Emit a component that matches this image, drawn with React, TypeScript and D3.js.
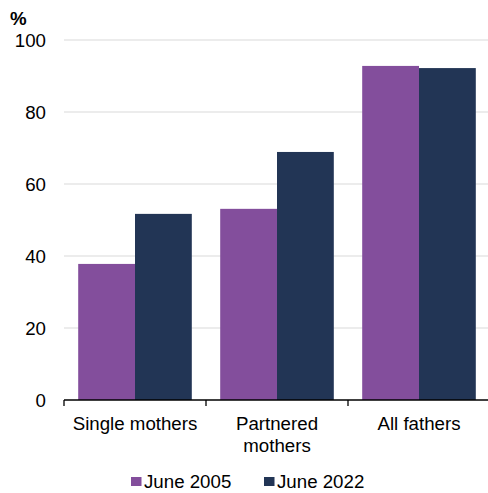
import React from "react";
import * as d3 from "d3";

const categories: string[][] = [["Single mothers"], ["Partnered", "mothers"], ["All fathers"]];
const categoryKeys = ["Single mothers", "Partnered mothers", "All fathers"];
const seriesNames = ["June 2005", "June 2022"];
const june2005 = [37.8, 53.1, 92.8];
const june2022 = [51.7, 68.9, 92.2];
const yTicks = [0, 20, 40, 60, 80, 100];
const colors = ["#834E9C", "#223555"];

const W = 488;
const H = 493;
const left = 64;
const right = 490;
const top = 40;
const bottom = 400;
const font = "'Liberation Sans', Arial, sans-serif";
const fs = 18.7;

export default function App() {
  const y = d3.scaleLinear().domain([0, 100]).range([bottom, top]);
  const x = d3.scaleBand<string>().domain(categoryKeys).range([left, right]).paddingInner(0).paddingOuter(0);
  const bw = x.bandwidth();
  const inner = d3.scaleBand<string>().domain(seriesNames).range([bw * 0.1, bw * 0.9]).padding(0);
  const series = [june2005, june2022];
  const boundaries = [...categoryKeys.map((c) => x(c) as number), right];

  return (
    <svg width={W} height={H} style={{ position: "absolute", left: 0, top: 0, background: "#fff" }}>
      {yTicks.filter((t) => t > 0).map((t) => (
        <line key={t} x1={left} x2={right} y1={y(t)} y2={y(t)} stroke="#d9d9d9" strokeWidth={1.2} />
      ))}
      {yTicks.map((t) => (
        <text key={"l" + t} x={46} y={y(t)} dy="0.35em" textAnchor="end" fontFamily={font} fontSize={fs} fill="#000">
          {t}
        </text>
      ))}
      <text x={10} y={25} fontFamily={font} fontSize={fs} fontWeight="bold" fill="#000">%</text>
      {categoryKeys.map((c, i) => (
        <g key={c}>
          {series.map((s, j) => (
            <rect
              key={j}
              x={(x(c) as number) + (inner(seriesNames[j]) as number)}
              width={inner.bandwidth()}
              y={y(s[i])}
              height={bottom - y(s[i])}
              fill={colors[j]}
            />
          ))}
          {categories[i].map((line, k) => (
            <text
              key={k}
              x={(x(c) as number) + bw / 2}
              y={430 + k * 21.7}
              textAnchor="middle"
              fontFamily={font}
              fontSize={fs}
              fill="#000"
            >
              {line}
            </text>
          ))}
        </g>
      ))}
      <line x1={left} x2={right} y1={bottom} y2={bottom} stroke="#000" strokeWidth={1.3} />
      {boundaries.map((b, i) => (
        <line key={"t" + i} x1={b} x2={b} y1={bottom} y2={bottom + 6} stroke="#000" strokeWidth={1.3} />
      ))}
      {seriesNames.map((n, j) => {
        const lx = j === 0 ? 131 : 264;
        return (
          <g key={n}>
            <rect x={lx} y={477} width={10.5} height={9} fill={colors[j]} />
            <text x={lx + 13} y={488} fontFamily={font} fontSize={fs} fill="#000">{n}</text>
          </g>
        );
      })}
    </svg>
  );
}
